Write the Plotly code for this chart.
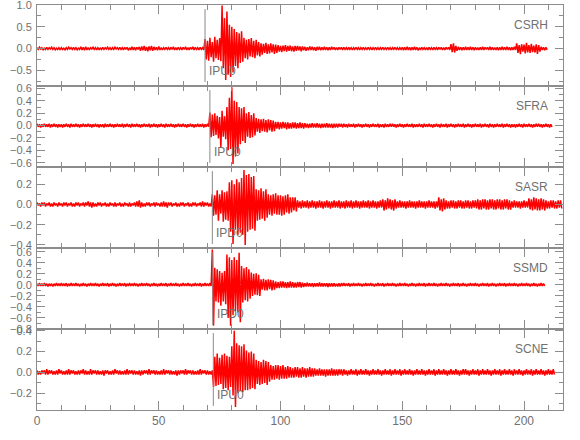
import numpy as np
import plotly.graph_objects as go
from plotly.subplots import make_subplots

# ---------------- data (amplitudes in hundredths, one value every DT seconds) ----------------
DT = 0.5
AMP_UNIT = 0.01

stations = ["CSRH", "SFRA", "SASR", "SSMD", "SCNE"]
pick_times = [69.0, 71.0, 72.0, 72.2, 72.4]
pick_labels = ["IPU0", "IPU0", "IPD0", "IPD0", "IPU0"]
y_ranges = [[-0.86, 1.002], [-0.67, 0.64], [-0.43, 0.37], [-0.801, 0.667], [-0.36, 0.416]]
y_major = [0.5, 0.2, 0.2, 0.2, 0.2]
y_minor = [0.25, 0.1, 0.1, 0.1, 0.1]
x_tick_vals = [0, 50, 100, 150, 200]

csrh = [
    2,-2,3,-1,2,-3,1,-2,3,-2,2,-1,3,-2,2,-3,1,-2,2,-3,
    2,-2,1,-3,2,-2,3,-1,2,-2,3,-2,2,-3,1,-2,4,-3,3,-4,
    4,-3,2,-3,2,-1,3,-2,2,-3,2,-2,1,-2,3,-2,2,-1,3,-2,
    2,-3,2,-2,3,-1,2,-2,3,-2,2,-3,3,-2,3,-4,2,-3,4,-3,
    3,-4,3,-2,4,-5,5,-4,6,-5,4,-6,5,-4,6,-5,4,-3,3,-4,
    5,-3,2,-3,2,-2,3,-2,2,-3,3,-2,4,-3,2,-3,3,-2,2,-3,
    3,-2,4,-3,2,-3,3,-2,4,-3,3,-2,2,-3,3,-2,2,-3,
    22,-25,
    18,-28,25,-20,15,-30,27,-22,20,-26,24,-29,
    99,-45,70,-72,85,-60,55,-65,
    50,-55,45,-40,38,-45,35,-33,40,-30,
    25,-22,20,-25,22,-18,24,-20,18,-22,20,-16,15,-18,
    12,-14,11,-10,13,-12,10,-11,12,-9,10,-12,9,-10,
    8,-7,6,-8,7,-6,8,-7,6,-5,7,-6,5,-7,6,-5,6,-4,5,-6,
    5,-4,4,-5,3,-4,5,-3,4,-4,3,-5,4,-3,4,-4,3,-3,4,-3,3,-4,3,-3,4,-2,3,-3,2,-3,3,-2,3,-3,
    3,-2,2,-3,3,-2,2,-3,2,-2,3,-2,2,-3,2,-2,3,-2,2,-2,3,-2,2,-3,
    2,-2,3,-2,2,-3,2,-2,3,-2,2,-2,3,-2,2,-3,2,-2,3,-2,2,-3,2,-2,
    3,-4,3,-3,4,-3,3,-4,3,-3,4,-3,3,-4,2,-3,3,-2,2,-3,
    2,-3,3,-2,2,-3,3,-2,2,-3,3,-2,3,-3,2,-3,3,-2,3,-3,
    10,-8,12,-9,6,-5,
    4,-3,3,-4,3,-3,4,-3,3,-3,4,-3,3,-4,3,-3,2,-3,3,-3,4,-3,3,-2,
    3,-3,4,-3,3,-3,2,-3,3,-4,3,-3,4,-3,3,-3,4,-3,3,-4,3,-3,4,-3,
    12,-10,8,-13,10,-7,9,-11,13,-9,8,-10,11,-8,7,-9,10,-12,8,-7,
    4,-3,3,-4,3,-3,
]

sfra = [
    3,-2,2,-3,2,-2,3,-2,2,-2,3,-3,2,-2,3,-2,2,-3,2,-2,
    2,-3,2,-2,3,-2,2,-3,3,-2,2,-2,3,-2,2,-3,2,-2,3,-2,
    2,-2,3,-2,2,-3,2,-2,3,-2,2,-3,2,-2,2,-3,3,-2,2,-2,
    3,-2,2,-3,2,-2,3,-2,2,-2,3,-3,2,-2,3,-2,2,-3,3,-2,
    2,-2,3,-2,2,-3,2,-2,3,-2,2,-2,3,-3,2,-2,3,-2,2,-3,
    2,-2,3,-2,2,-3,3,-2,2,-2,3,-2,2,-3,2,-2,3,-2,2,-2,
    3,-2,2,-3,2,-2,3,-2,2,-3,2,-2,3,-2,2,-2,3,-3,2,-2,3,-2,
    21,-19,18,-17,20,-15,
    16,-21,14,-35,24,-18,15,-22,
    30,-40,45,-38,
    62,-62,
    40,-50,38,-45,
    30,-30,28,-25,30,-28,
    20,-18,22,-20,17,-19,20,-16,
    12,-10,11,-12,10,-9,11,-10,9,-11,10,-8,9,-10,8,-9,
    6,-5,6,-6,5,-5,6,-4,5,-6,5,-5,4,-5,5,-4,5,-5,4,-4,5,-4,4,-5,
    4,-3,3,-4,3,-3,4,-3,3,-3,4,-3,3,-4,3,-3,3,-3,4,-3,3,-3,3,-4,3,-3,3,-3,3,-2,3,-3,
    3,-2,2,-3,3,-2,2,-2,3,-3,2,-2,3,-2,2,-3,2,-2,3,-2,
    2,-3,2,-2,3,-2,2,-2,3,-3,2,-2,2,-3,3,-2,2,-2,3,-2,
    3,-2,2,-3,2,-2,3,-2,2,-3,2,-2,3,-2,2,-2,3,-3,2,-2,
    2,-2,3,-2,2,-3,3,-2,2,-2,3,-2,2,-3,2,-2,3,-2,2,-3,
    3,-2,2,-2,3,-3,2,-2,3,-2,2,-3,2,-2,3,-2,2,-2,3,-3,
    2,-2,3,-2,2,-3,2,-2,3,-2,2,-2,3,-3,2,-2,3,-2,2,-3,
    3,-2,2,-3,2,-2,3,-2,2,-2,3,-3,2,-2,3,-2,2,-3,2,-2,
    2,-3,2,-2,3,-2,2,-3,3,-2,2,-2,3,-2,2,-3,2,-2,3,-2,
    3,-2,2,-3,2,-2,3,-2,2,-3,2,-2,
]

sasr = [
    2,-1,1,-2,2,-1,2,-2,1,-1,2,-2,1,-2,2,-1,1,-2,2,-1,
    1,-2,2,-1,2,-2,1,-1,2,-2,1,-2,2,-1,2,-2,1,-1,2,-2,
    2,-1,3,-2,2,-3,2,-2,1,-2,2,-1,2,-2,1,-1,2,-2,1,-2,
    2,-1,1,-2,2,-2,1,-1,2,-2,1,-2,2,-1,1,-2,2,-2,1,-1,
    2,-2,3,-2,4,-3,2,-2,1,-2,2,-1,2,-2,1,-1,2,-2,2,-1,
    1,-2,2,-2,3,-2,2,-3,2,-1,2,-2,1,-1,2,-2,1,-2,2,-1,
    2,-2,1,-1,2,-2,1,-2,2,-1,2,-2,1,-1,2,-2,3,-2,2,-1,2,-2,1,-2,
    10,-11,9,-10,14,-16,10,-9,
    14,-17,12,-15,13,-16,
    22,-27,24,-39,20,-25,
    25,-30,22,-28,26,-30,34,-40,
    29,-27,30,-25,27,-24,28,-26,
    15,-16,14,-15,16,-14,13,-16,15,-13,
    10,-10,9,-11,10,-9,11,-10,9,-10,
    9,-11,8,-10,9,-8,10,-9,7,-8,7,-6,7,-7,
    4,-3,3,-4,4,-3,3,-3,4,-4,3,-3,4,-3,3,-4,3,-3,4,-3,
    3,-4,3,-3,4,-3,3,-4,3,-3,4,-3,3,-3,4,-4,3,-3,3,-4,
    4,-3,3,-3,4,-4,3,-3,4,-3,3,-4,3,-3,4,-3,3,-3,4,-4,
    3,-3,4,-3,3,-4,3,-3,4,-3,
    5,-6,4,-5,6,-4,5,-5,4,-6,5,-4,
    3,-3,4,-3,3,-3,3,-4,3,-3,4,-3,3,-3,3,-4,3,-3,4,-3,3,-3,3,-4,3,-3,4,-3,3,-3,3,-4,3,-3,
    7,-6,5,-7,6,-5,
    4,-4,3,-4,4,-3,4,-4,3,-4,4,-3,4,-4,3,-4,4,-3,4,-4,3,-4,4,-3,4,-4,
    5,-5,4,-5,5,-4,5,-5,4,-5,5,-4,5,-5,4,-5,5,-4,5,-5,4,-5,5,-4,5,-5,4,-5,
    3,-3,4,-3,3,-3,3,-4,3,-3,4,-3,3,-3,
    6,-5,5,-6,7,-5,6,-6,5,-6,6,-5,5,-6,
    4,-4,3,-4,4,-3,4,-4,3,-4,4,-3,4,-4,
]

ssmd = [
    2,-2,3,-2,2,-2,3,-2,2,-3,2,-2,2,-3,2,-2,3,-2,2,-2,
    3,-2,2,-2,3,-3,2,-2,3,-2,2,-2,3,-2,2,-3,2,-2,3,-2,
    2,-3,2,-2,3,-2,2,-2,3,-2,2,-3,2,-2,3,-2,2,-2,3,-3,
    2,-2,3,-2,2,-3,2,-2,3,-2,2,-2,3,-3,2,-2,3,-2,2,-2,
    3,-2,2,-3,2,-2,3,-2,2,-2,3,-2,2,-3,2,-2,3,-2,2,-3,
    2,-2,3,-2,2,-2,3,-3,2,-2,3,-2,2,-2,3,-2,2,-3,2,-2,
    3,-2,2,-2,3,-2,2,-3,2,-2,3,-2,2,-2,3,-3,2,-2,3,-2,2,-2,3,-2,
    64,-74,
    31,-30,28,-32,
    25,-38,22,-30,25,-35,
    55,-60,50,-74,45,-55,
    50,-48,45,-50,58,-68,
    34,-32,30,-28,32,-30,28,-25,
    22,-20,20,-18,21,-19,18,-20,
    10,-9,11,-10,9,-10,10,-8,9,-10,8,-9,
    6,-6,5,-6,6,-5,6,-5,5,-6,5,-5,6,-5,5,-5,4,-5,5,-4,5,-5,4,-4,
    3,-3,4,-3,3,-3,3,-4,3,-3,3,-3,4,-3,3,-3,3,-3,3,-4,3,-3,3,-3,3,-3,2,-3,3,-3,3,-2,
    3,-2,2,-2,3,-3,2,-2,3,-2,2,-2,3,-2,2,-3,2,-2,3,-2,
    2,-2,3,-2,2,-3,2,-2,3,-2,2,-2,3,-3,2,-2,3,-2,2,-2,
    3,-2,2,-3,2,-2,3,-2,2,-2,3,-2,2,-3,2,-2,3,-2,2,-3,
    2,-2,3,-2,2,-2,3,-3,2,-2,3,-2,2,-2,3,-2,2,-3,2,-2,
    3,-2,2,-2,3,-2,2,-3,2,-2,3,-2,2,-2,3,-3,2,-2,3,-2,
    2,-3,2,-2,3,-2,2,-2,3,-2,2,-3,2,-2,3,-2,2,-2,3,-3,
    2,-2,3,-2,2,-3,2,-2,3,-2,2,-2,3,-3,2,-2,3,-2,2,-2,
    3,-2,2,-3,2,-2,3,-2,2,-2,3,-2,2,-3,2,-2,3,-2,2,-3,
    2,-2,3,-2,2,-2,
]

scne = [
    2,-2,1,-2,2,-1,2,-2,3,-2,2,-1,2,-2,1,-2,2,-2,3,-1,
    2,-2,1,-2,2,-2,3,-2,2,-1,2,-2,1,-2,2,-2,2,-1,3,-2,
    2,-2,1,-2,3,-2,2,-1,2,-2,2,-2,1,-2,2,-3,2,-1,2,-2,
    1,-2,2,-2,3,-1,2,-2,2,-2,1,-2,2,-2,3,-2,2,-1,2,-2,
    2,-2,1,-2,2,-3,2,-2,2,-1,2,-2,3,-2,2,-1,2,-2,2,-2,
    1,-2,2,-2,3,-2,2,-1,2,-2,2,-2,1,-2,2,-3,2,-2,2,-1,
    2,-2,3,-2,2,-1,2,-2,2,-2,1,-2,2,-2,3,-2,2,-1,2,-2,2,-2,1,-2,2,
    -14,15,-13,18,-12,14,-11,
    17,-16,18,-15,16,-17,15,-14,
    25,-22,40,-33,
    28,-20,26,-18,25,-19,27,-17,
    21,-17,19,-16,20,-15,18,-16,
    12,-11,11,-12,10,-11,12,-10,11,-12,10,-9,
    7,-7,6,-7,7,-6,7,-7,6,-6,7,-6,5,-6,6,-5,
    5,-5,4,-5,5,-4,5,-5,4,-5,5,-4,4,-5,4,-4,5,-4,4,-4,4,-3,
    3,-3,4,-3,3,-3,3,-4,3,-3,3,-3,4,-3,3,-3,3,-3,3,-2,3,-3,
    3,-2,2,-3,2,-2,3,-2,2,-2,3,-3,2,-2,3,-2,2,-2,3,-2,
    2,-3,2,-2,3,-2,2,-2,3,-2,2,-3,2,-2,3,-2,2,-2,3,-3,
    2,-2,3,-2,2,-2,3,-3,2,-2,3,-2,2,-2,3,-2,2,-3,2,-2,
    3,-2,2,-2,3,-2,2,-3,2,-2,3,-2,2,-2,3,-3,2,-2,3,-2,
    2,-2,3,-2,2,-3,2,-2,3,-2,2,-2,3,-2,2,-3,2,-2,3,-2,
    3,-2,2,-3,2,-2,3,-2,2,-2,3,-3,2,-2,3,-2,2,-2,3,-2,
    2,-3,2,-2,3,-2,2,-2,3,-3,2,-2,3,-2,2,-2,3,-2,2,-3,
    3,-2,2,-2,3,-2,2,-3,2,-2,3,-2,2,-2,3,-3,2,-2,3,-2,
    2,-2,3,-2,2,-3,2,-2,3,-2,2,-2,3,-2,
]

series = [csrh, sfra, sasr, ssmd, scne]

# ---------------- figure ----------------
FONT = "Liberation Sans Narrow, Liberation Sans, Arial, sans-serif"
AXIS_COLOR = "#8c8c8c"
TEXT_COLOR = "#707070"

fig = make_subplots(rows=5, cols=1, shared_xaxes=True, vertical_spacing=0)

for i, vals in enumerate(series):
    v = np.array(vals, dtype=float) * AMP_UNIT
    t = np.arange(len(v)) * DT
    fig.add_trace(
        go.Scatter(x=t, y=v, mode="lines",
                   line=dict(color="#ff0000", width=1.5, simplify=False),
                   hoverinfo="skip", showlegend=False),
        row=i + 1, col=1,
    )

for i in range(5):
    n = "" if i == 0 else str(i + 1)
    xr, yr = "x" + n, "y" + n
    fig.add_shape(type="line", xref=xr, yref=yr + " domain",
                  x0=pick_times[i], x1=pick_times[i], y0=0.05, y1=0.95,
                  line=dict(color="#8a8a8a", width=1))
    fig.add_annotation(xref=xr, yref=yr + " domain", x=pick_times[i], y=0.18,
                       text=pick_labels[i], showarrow=False, xanchor="left",
                       yanchor="middle", xshift=2,
                       font=dict(family=FONT, size=12, color=TEXT_COLOR))
    fig.add_annotation(xref=xr + " domain", yref=yr + " domain", x=0.975, y=0.75,
                       text=stations[i], showarrow=False, xanchor="right",
                       yanchor="middle",
                       font=dict(family=FONT, size=12, color=TEXT_COLOR))
    fig.update_yaxes(
        row=i + 1, col=1, range=y_ranges[i], dtick=y_major[i], tick0=0,
        tickformat=".1f", ticks="inside", ticklen=8, tickcolor=AXIS_COLOR,
        minor=dict(dtick=y_minor[i], tick0=0, ticks="inside", ticklen=4,
                   tickcolor=AXIS_COLOR, showgrid=False),
        showline=True, linecolor=AXIS_COLOR, linewidth=1, mirror="ticks",
        showgrid=False, zeroline=False, automargin=False, ticklabelstandoff=2,
        ticklabeloverflow="allow",
        tickfont=dict(family=FONT, size=11, color=TEXT_COLOR),
    )
    fig.update_xaxes(
        row=i + 1, col=1, range=[0, 216], tickvals=x_tick_vals,
        ticks="inside", ticklen=9, tickcolor=AXIS_COLOR,
        minor=dict(dtick=10, tick0=0, ticks="inside", ticklen=5,
                   tickcolor=AXIS_COLOR, showgrid=False),
        showline=True, linecolor=AXIS_COLOR, linewidth=1, mirror="ticks",
        showgrid=False, zeroline=False, automargin=False,
        tickfont=dict(family=FONT, size=12, color=TEXT_COLOR),
    )

fig.update_layout(
    width=580, height=440,
    margin=dict(l=37, r=17, t=5, b=30),
    paper_bgcolor="white", plot_bgcolor="white",
    showlegend=False,
)

fig.write_html("out.html", config={"displayModeBar": False},
               post_script="document.body.style.margin='0';")
